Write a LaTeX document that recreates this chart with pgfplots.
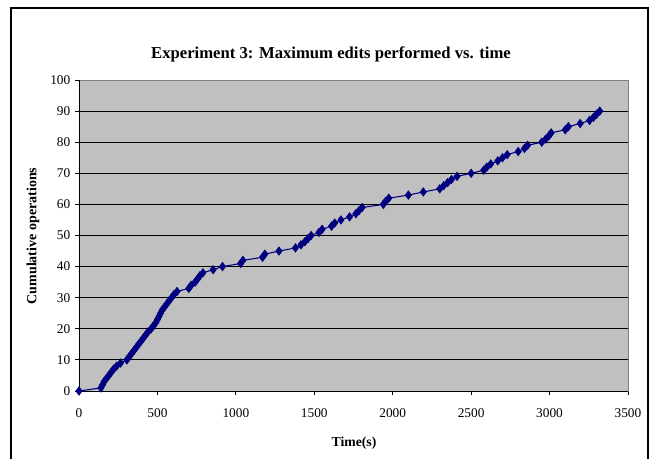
\documentclass[border=0pt]{standalone}
\usepackage{fontspec}
\setmainfont{Liberation Serif}
\usepackage{pgfplots}
\pgfplotsset{compat=1.18}
\definecolor{plotgray}{HTML}{C0C0C0}
\definecolor{navyblue}{HTML}{000080}
\pgfplotstableread{
x y
0 0
140 1
150 2
160 3
175 4
190 5
205 6
220 7
240 8
265 9
305 10
320 11
335 12
350 13
365 14
380 15
395 16
410 17
425 18
440 19
460 20
475 21
490 22
500 23
510 24
520 25
530 26
545 27
560 28
575 29
590 30
605 31
625 32
700 33
715 34
740 35
755 36
770 37
790 38
855 39
915 40
1030 41
1045 42
1170 43
1185 44
1275 45
1380 46
1415 47
1440 48
1460 49
1480 50
1530 51
1550 52
1610 53
1630 54
1670 55
1725 56
1765 57
1785 58
1805 59
1940 60
1955 61
1975 62
2100 63
2195 64
2300 65
2325 66
2350 67
2375 68
2410 69
2500 70
2580 71
2600 72
2625 73
2670 74
2700 75
2730 76
2800 77
2840 78
2860 79
2950 80
2975 81
2995 82
3010 83
3100 84
3120 85
3195 86
3255 87
3280 88
3300 89
3320 90
}\datatable
\begin{document}
\begin{tikzpicture}[x=0.75pt,y=-0.75pt]
\useasboundingbox (0,0) rectangle (651,459);
\draw[line width=0.8pt] (11,459) -- (11,8) -- (648,8) -- (648,459);
\begin{axis}[at={(59.25pt,-293.25pt)}, anchor=south west, scale only axis,
  width=411.75pt, height=233.25pt,
  xmin=0, xmax=3500, ymin=0, ymax=100,
  xtick={0,500,...,3500}, ytick={0,10,...,100},
  axis background/.style={fill=plotgray},
  axis line style={draw=gray, line width=0.6pt},
  ymajorgrids, grid style={black, line width=0.6pt},
  tick pos=left, tick align=outside, major tick length=3pt,
  tick style={black, line width=0.6pt},
  ticklabel style={font=\fontsize{10}{12}\selectfont},
  xticklabel style={yshift=-6.5pt},
  /pgf/number format/assume math mode=true,
  /pgf/number format/1000 sep={},
  clip=false]
\addplot[navyblue, line width=0.8pt, mark=diamond*, mark size=2.9pt,
  mark options={fill=navyblue, draw=navyblue}] table[x=x,y=y] {\datatable};
\draw[black, line width=0.7pt] (rel axis cs:0,1) -- (rel axis cs:0,0) -- (rel axis cs:1,0);
\end{axis}
\node[font=\fontsize{12.5}{15}\selectfont\bfseries] at (331,54) {Experiment 3: Maximum edits performed vs. time};
\node[font=\fontsize{10.5}{12}\selectfont\bfseries, rotate=90] at (33,236) {Cumulative operations};
\node[font=\fontsize{10.3}{12}\selectfont\bfseries] at (354,443) {Time(s)};
\end{tikzpicture}
\end{document}
